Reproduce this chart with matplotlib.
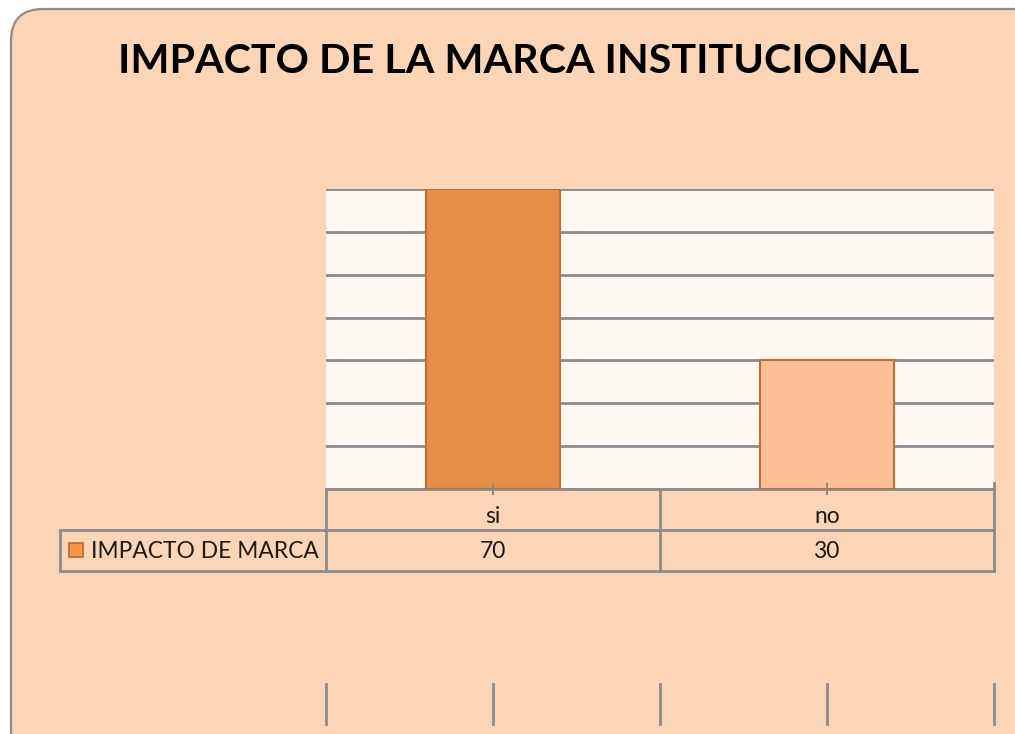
import matplotlib.pyplot as plt
import matplotlib.transforms as mtransforms
from matplotlib.patches import FancyBboxPatch

# data of the chart
categories = ['si', 'no']
values = [70, 30]
series_name = 'IMPACTO DE MARCA'
title = 'IMPACTO DE LA MARCA INSTITUCIONAL'
bar_colors = ['#E58E49', '#FDBF97']

plt.rcParams['font.family'] = ['Lato', 'DejaVu Sans']
grey = '#8C8C8C'

fig = plt.figure(figsize=(10.15, 7.34), dpi=100)
fig.patch.set_facecolor('white')

# rounded peach background (chart area)
bg = FancyBboxPatch((0.11, -0.3), 10.4, 7.55, boxstyle='round,pad=0,rounding_size=0.32',
                    transform=fig.dpi_scale_trans, facecolor='#FBD5B5',
                    edgecolor=grey, linewidth=1.6, zorder=-10)
fig.add_artist(bg)

fig.text(0.511, 0.916, title, ha='center', va='center', fontsize=29.7,
         fontweight='bold', color='black')

ax = fig.add_axes([0.3212, 0.3338, 0.6581, 0.4087])
ax.set_facecolor('#FEF8F2')
x = list(range(len(categories)))
ax.bar(x, values, width=0.4, color=bar_colors, edgecolor='#BF6F32',
       linewidth=1.5, zorder=3)
ax.set_xlim(-0.5, len(categories) - 0.5)
ax.set_ylim(0, 70)
ax.set_yticks(range(0, 71, 10))
ax.yaxis.grid(True, color=grey, linewidth=2)
ax.set_axisbelow(True)
ax.xaxis.set_zorder(5)  # ticks drawn over the bars
ax.tick_params(axis='y', length=0, labelleft=False)
ax.set_xticks(x)
ax.set_xticklabels([])
ax.tick_params(axis='x', direction='inout', length=9, width=1.5, color=grey)
for side in ['left', 'right', 'top']:
    ax.spines[side].set_visible(False)
ax.spines['bottom'].set_color(grey)
ax.spines['bottom'].set_linewidth(2)

# data table below the plot
tr = mtransforms.blended_transform_factory(ax.transData, ax.transAxes)
row = 41 / 300
left_edge = -0.5 - 266 / 334
right_edge = len(categories) - 0.5
kw = dict(color=grey, linewidth=2, transform=tr, clip_on=False)
ax.plot([left_edge, right_edge], [-row, -row], **kw)
ax.plot([left_edge, right_edge], [-2 * row, -2 * row], **kw)
ax.plot([left_edge, left_edge], [-row, -2 * row], **kw)
for i in range(len(categories) + 1):
    top = 0.02 if i == len(categories) else 0
    ax.plot([i - 0.5, i - 0.5], [top, -2 * row], **kw)

for i, (cat, val) in enumerate(zip(categories, values)):
    ax.text(i, -34 / 300, cat, ha='center', va='baseline', fontsize=16.4,
            color='#1A1A1A', transform=tr)
    ax.text(i, -69 / 300, str(val), ha='center', va='baseline', fontsize=16.4,
            color='#1A1A1A', transform=tr)

ax.plot([-0.5 - 250.5 / 334], [-61.5 / 300], marker='s', markersize=10.5,
        markerfacecolor='#F79646', markeredgecolor='#B8672D',
        markeredgewidth=1.2, transform=tr, clip_on=False)
ax.text(-0.5 - 235 / 334, -69 / 300, series_name, ha='left', va='baseline',
        fontsize=16.4, color='#1A1A1A', transform=tr)

# stray tick marks at the bottom of the chart area
for i in range(2 * len(categories) + 1):
    ax.plot([i / 2 - 0.5] * 2, [-195 / 300, -235 / 300], **kw)

plt.savefig('out.png', dpi=100)
